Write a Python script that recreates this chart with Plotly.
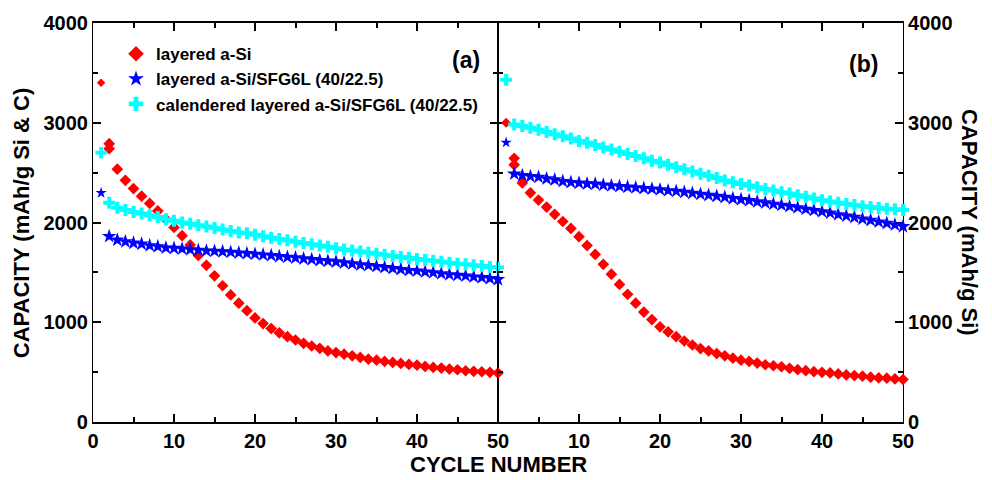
import plotly.graph_objects as go
from plotly.subplots import make_subplots

# ---- data ----
cycles = list(range(1, 51))
red_x = [1, 2] + list(range(2, 51))

a_red = [3400, 2790, 2740, 2535, 2423, 2340, 2264, 2191, 2116, 2033, 1950,
         1868, 1775, 1670, 1571, 1465, 1366, 1274, 1191, 1116, 1043,
         987, 937, 894, 855, 822, 789, 762, 739, 713, 696,
         680, 663, 647, 630, 620, 607, 597, 587, 577, 570,
         557, 547, 541, 531, 524, 514, 508, 504, 498, 491]
a_blue = [2297, 1861, 1825, 1808, 1795, 1785, 1769, 1759, 1746, 1742,
          1736, 1729, 1723, 1716, 1713, 1709, 1703, 1696, 1690, 1683,
          1676, 1670, 1660, 1653, 1647, 1637, 1630, 1620, 1614, 1607,
          1597, 1587, 1577, 1571, 1561, 1551, 1541, 1531, 1521, 1515,
          1505, 1498, 1488, 1478, 1472, 1465, 1455, 1449, 1439, 1429]
a_cyan = [2700, 2198, 2149, 2125, 2106, 2089, 2073, 2056, 2033, 2017,
          2000, 1987, 1973, 1960, 1944, 1931, 1914, 1901, 1891, 1878,
          1861, 1848, 1835, 1822, 1808, 1795, 1782, 1769, 1756, 1742,
          1729, 1719, 1709, 1696, 1686, 1676, 1663, 1653, 1643, 1634,
          1624, 1617, 1607, 1597, 1587, 1581, 1571, 1564, 1554, 1548]

b_red = [3000, 2644, 2578, 2396, 2297, 2225, 2155, 2082, 2010, 1941, 1858,
         1769, 1680, 1581, 1482, 1379, 1280, 1191, 1102, 1027, 954,
         904, 855, 812, 772, 736, 713, 686, 663, 640, 620,
         607, 591, 574, 564, 554, 538, 525, 515, 505, 498,
         492, 482, 472, 465, 459, 449, 442, 439, 432, 426]
b_blue = [2802, 2488, 2472, 2462, 2455, 2439, 2429, 2413, 2403, 2396,
          2389, 2386, 2376, 2370, 2363, 2356, 2350, 2343, 2337, 2330,
          2320, 2314, 2304, 2294, 2284, 2274, 2264, 2254, 2241, 2231,
          2221, 2208, 2198, 2185, 2175, 2162, 2149, 2135, 2122, 2109,
          2096, 2079, 2066, 2053, 2036, 2023, 2007, 1993, 1977, 1960]
b_cyan = [3430, 2983, 2967, 2950, 2931, 2908, 2884, 2865, 2842, 2818,
          2799, 2776, 2753, 2733, 2710, 2687, 2667, 2644, 2620, 2601,
          2578, 2554, 2535, 2512, 2488, 2469, 2446, 2422, 2403, 2386,
          2370, 2353, 2337, 2320, 2304, 2290, 2274, 2257, 2241, 2224,
          2211, 2198, 2185, 2175, 2162, 2155, 2145, 2139, 2132, 2125]

names = ["layered a-Si", "layered a-Si/SFG6L (40/22.5)",
         "calendered layered a-Si/SFG6L (40/22.5)"]
x_ticks = [0, 10, 20, 30, 40, 50]
x_minor = [5, 15, 25, 35, 45]
y_ticks = [0, 1000, 2000, 3000, 4000]
y_minor = [500, 1500, 2500, 3500]

RED, BLUE, CYAN = "#ff0000", "#0000ff", "#00ffff"
FONT = "Liberation Sans"

fig = make_subplots(rows=1, cols=2, horizontal_spacing=0)


def sizes(n, first, rest):
    return [first] + [rest] * (n - 1)


def add(col, x, y, color, symbol, first, rest, name, show):
    fig.add_trace(go.Scatter(
        x=x, y=y, mode="markers", name="<b>" + name + "</b>", showlegend=show,
        cliponaxis=False,
        marker=dict(color=color, symbol=symbol, size=sizes(len(y), first, rest),
                    opacity=1, line=dict(width=0)),
    ), row=1, col=col)


add(1, red_x, a_red, RED, "diamond", 6.5, 9, names[0], True)
add(1, cycles, a_blue, BLUE, "star", 8.5, 11, names[1], True)
add(1, cycles, a_cyan, CYAN, "cross", 9.5, 10, names[2], True)
add(2, red_x, b_red, RED, "diamond", 7.5, 9, names[0], False)
add(2, cycles, b_blue, BLUE, "star", 8.5, 11, names[1], False)
add(2, cycles, b_cyan, CYAN, "cross", 10, 10, names[2], False)

tickfont = dict(family=FONT, size=20, color="black", weight="bold")
axis_common = dict(showline=True, linecolor="black", mirror="ticks",
                   ticks="inside", tickcolor="black", tickwidth=1.5, showgrid=False,
                   zeroline=False, tickfont=tickfont, ticklen=8, layer="below traces")

fig.update_xaxes(range=[0, 50], tickvals=x_ticks, linewidth=1.5,
                 minor=dict(tickvals=x_minor, ticklen=5, ticks="inside",
                            tickcolor="black", tickwidth=1.5),
                 **axis_common)
fig.update_xaxes(tickvals=x_ticks[1:], row=1, col=2)
fig.update_yaxes(range=[0, 4000], tickvals=y_ticks, linewidth=1.2,
                 minor=dict(tickvals=y_minor, ticklen=5, ticks="inside",
                            tickcolor="black", tickwidth=1.5),
                 **axis_common)
fig.update_layout(yaxis2=dict(side="right"))

title_font = dict(family=FONT, size=22, color="black")
fig.update_layout(
    width=992, height=480,
    margin=dict(l=93, r=89, t=18, b=58),
    plot_bgcolor="white", paper_bgcolor="white",
    font=dict(family=FONT, color="black"),
    legend=dict(x=0.0284, y=0.967, xanchor="left", yanchor="top",
                bgcolor="rgba(0,0,0,0)", font=dict(family=FONT, size=17, color="black"),
                tracegroupgap=0, itemsizing="constant"),
    annotations=[
        dict(text="<b>CYCLE NUMBER</b>", x=0.5, y=-0.07, xref="paper", yref="paper",
             xanchor="center", yanchor="top", showarrow=False, font=title_font),
        dict(text="<b>CAPACITY (mAh/g Si &amp; C)</b>", x=-0.088, y=0.5, xref="paper",
             yref="paper", xanchor="center", yanchor="middle", showarrow=False,
             textangle=-90, font=title_font),
        dict(text="<b>CAPACITY (mAh/g Si)</b>", x=1.082, y=0.5, xref="paper",
             yref="paper", xanchor="center", yanchor="middle", showarrow=False,
             textangle=90, font=title_font),
        dict(text="<b>(a)</b>", x=0.461, y=0.907, xref="paper", yref="paper",
             xanchor="center", yanchor="middle", showarrow=False,
             font=dict(family=FONT, size=23, color="black")),
        dict(text="<b>(b)</b>", x=0.951, y=0.898, xref="paper", yref="paper",
             xanchor="center", yanchor="middle", showarrow=False,
             font=dict(family=FONT, size=23, color="black")),
    ],
)

fig.write_html("out.html")
